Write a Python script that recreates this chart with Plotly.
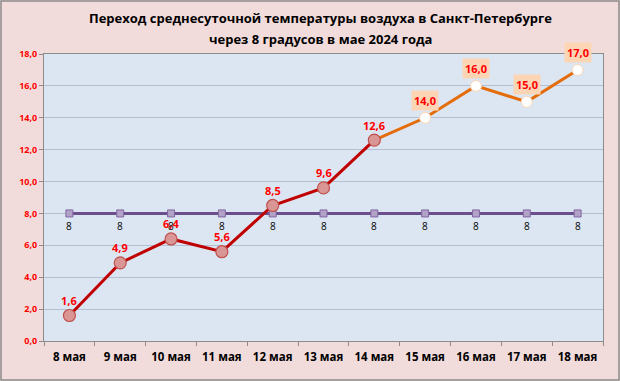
import plotly.graph_objects as go

days = ["8 мая", "9 мая", "10 мая", "11 мая", "12 мая", "13 мая", "14 мая",
        "15 мая", "16 мая", "17 мая", "18 мая"]
temp_red = [1.6, 4.9, 6.4, 5.6, 8.5, 9.6, 12.6]
temp_orange = [12.6, 14.0, 16.0, 15.0, 17.0]
threshold = [8] * len(days)
y_ticks = [0, 2, 4, 6, 8, 10, 12, 14, 16, 18]
title_lines = ["Переход среднесуточной температуры воздуха в Санкт-Петербурге",
               "через 8 градусов в мае 2024 года"]

W, H = 620, 381
ml, mr, mt, mb = 44, 17, 54, 40
pw = W - ml - mr
ph = H - mt - mb

def fmt(v):
    return f"{v:.1f}".replace(".", ",")

def px_x(x):
    return (x - ml) / pw

def px_y(y):
    return 1 + (mt - y) / ph

fig = go.Figure()

fig.add_trace(go.Scatter(
    x=days, y=threshold, mode="lines+markers",
    line=dict(color="#6a4f8c", width=3),
    marker=dict(symbol="square", size=7, color="#b3a2c7", line=dict(color="#8064a2", width=1)),
    cliponaxis=False, showlegend=False, hoverinfo="skip"))

for d, v in zip(days, threshold):
    fig.add_annotation(x=d, y=v, text=str(v), showarrow=False, yshift=-13,
                       font=dict(family="Open Sans", size=10, color="#000000"))

fig.add_trace(go.Scatter(
    x=days[6:], y=temp_orange, mode="lines+markers",
    line=dict(color="#e46c0a", width=3),
    marker=dict(symbol="circle", size=11, color="#ffffff", line=dict(color="#fbd5b5", width=1)),
    cliponaxis=False, showlegend=False, hoverinfo="skip"))

fig.add_trace(go.Scatter(
    x=days[:7], y=temp_red, mode="lines+markers",
    line=dict(color="#c00000", width=3),
    marker=dict(symbol="circle", size=12, color="#d99694", line=dict(color="#c0504d", width=1.2)),
    cliponaxis=False, showlegend=False, hoverinfo="skip"))

for d, v in zip(days[:7], temp_red):
    fig.add_annotation(x=d, y=v, text=fmt(v), showarrow=False, yshift=15,
                       font=dict(family="Open Sans", size=11, color="#ff0000", weight="bold"))

for d, v in zip(days[7:], temp_orange[1:]):
    fig.add_annotation(x=d, y=v, text=fmt(v), showarrow=False, yshift=17,
                       bgcolor="#fcd5b5", borderpad=2,
                       font=dict(family="Open Sans", size=11, color="#ff0000", weight="bold"))

for line, ypix in zip(title_lines, [18, 39]):
    fig.add_annotation(xref="paper", yref="paper", x=px_x(320), y=px_y(ypix),
                       xanchor="center", yanchor="middle", text=line, showarrow=False,
                       font=dict(family="Open Sans", size=13, color="#000000", weight="bold"))

# outer border
fig.add_shape(type="rect", xref="paper", yref="paper",
              x0=px_x(1), x1=px_x(W - 1), y0=px_y(H - 1), y1=px_y(1),
              line=dict(color="#8c8c8c", width=1.5), layer="below")

fig.update_layout(
    width=W, height=H,
    margin=dict(l=ml, r=mr, t=mt, b=mb),
    paper_bgcolor="#f2dcdb", plot_bgcolor="#dce6f2",
    xaxis=dict(type="category", showgrid=False, showline=True, linecolor="#8c8c8c", mirror=True,
               ticks="outside", ticklen=4, tickcolor="#8c8c8c", tickson="boundaries",
               ticklabelstandoff=5,
               tickfont=dict(family="Open Sans", size=11.5, color="#000000", weight="bold"),
               range=[-0.5, len(days) - 0.5]),
    yaxis=dict(range=[0, 18], tickvals=y_ticks, ticktext=[fmt(v) for v in y_ticks],
               showgrid=True, gridcolor="#b4bfcf", gridwidth=1,
               showline=True, linecolor="#8c8c8c", mirror=True, zeroline=False,
               ticks="outside", ticklen=4, tickcolor="#8c8c8c",
               tickfont=dict(family="Open Sans", size=9, color="#ff0000", weight="bold")),
)

fig.write_html("out.html", config={"displayModeBar": False},
               post_script="document.body.style.margin='0';document.body.style.overflow='hidden';")
